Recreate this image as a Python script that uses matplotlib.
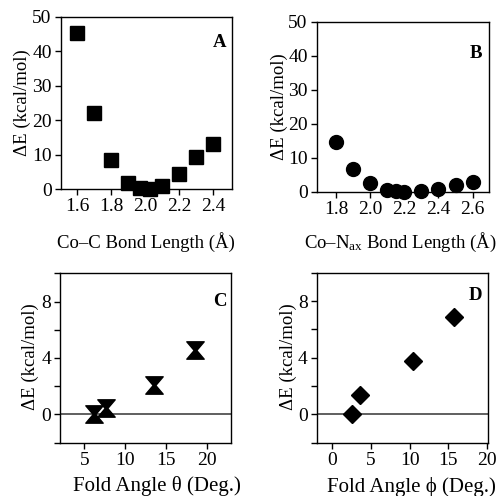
import matplotlib
matplotlib.use("Agg")
import matplotlib.pyplot as plt
from matplotlib.path import Path

plt.rcParams['font.family'] = ['Liberation Serif', 'DejaVu Serif']
plt.rcParams['mathtext.fontset'] = 'custom'
plt.rcParams['mathtext.rm'] = 'Liberation Serif'
plt.rcParams['mathtext.it'] = 'Liberation Serif:italic'

# Panel A: Co-C bond length scan
coc_len = [1.6, 1.7, 1.8, 1.9, 1.97, 2.03, 2.1, 2.2, 2.3, 2.4]
coc_dE = [45.3, 22.0, 8.4, 1.9, 0.3, 0.0, 1.0, 4.3, 9.4, 13.2]

# Panel B: Co-Nax bond length scan
con_len = [1.8, 1.9, 2.0, 2.1, 2.15, 2.2, 2.3, 2.4, 2.5, 2.6]
con_dE = [14.5, 6.7, 2.5, 0.5, 0.1, 0.0, 0.3, 0.9, 2.0, 2.9]

# Panel C: fold angle theta
theta = [6.2, 7.6, 13.5, 18.6]
theta_dE = [0.0, 0.45, 2.1, 4.6]

# Panel D: fold angle phi
phi = [2.6, 3.6, 10.4, 15.7]
phi_dE = [0.0, 1.4, 3.8, 6.9]

W, H = 499, 496
fig = plt.figure(figsize=(W / 100, H / 100), dpi=100)

def rect(l, r, t, b):
    return [l / W, 1 - b / H, (r - l) / W, (b - t) / H]

axA = fig.add_axes(rect(60.7, 232, 16.7, 189.3))
axB = fig.add_axes(rect(316.7, 488.7, 21.7, 191.7))
axC = fig.add_axes(rect(60, 231, 273.3, 442.7))
axD = fig.add_axes(rect(316.7, 487.7, 272.7, 442.7))

FS = 14
LFS = 13.5
ylabel = "ΔE (kcal/mol)"

for ax in (axA, axB, axC, axD):
    for s in ax.spines.values():
        s.set_linewidth(1.0)
    ax.tick_params(direction='out', length=4, width=1.0, labelsize=FS, pad=2.5)

def place_labels(ax, xl, xx, xy, yl, yx, yy, xfs=LFS):
    ax.set_xlabel(xl, fontsize=xfs)
    ax.xaxis.set_label_coords(xx, xy)
    ax.xaxis.label.set_va('baseline')
    ax.set_ylabel(yl, fontsize=LFS)
    ax.yaxis.set_label_coords(yx, yy)
    ax.yaxis.label.set_va('center')

hourglass = Path([(-1, 1), (1, 1), (0.15, 0), (1, -1), (-1, -1), (-0.15, 0), (-1, 1)],
                 [Path.MOVETO, Path.LINETO, Path.LINETO, Path.LINETO, Path.LINETO, Path.LINETO, Path.CLOSEPOLY])

# A
axA.plot(coc_len, coc_dE, 's', color='black', ms=9.5, clip_on=False, zorder=5)
axA.set_xlim(1.502, 2.51)
axA.set_ylim(0, 50)
axA.set_xticks([1.6, 1.8, 2.0, 2.2, 2.4])
axA.set_xticklabels(["1.6", "1.8", "2.0", "2.2", "2.4"])
axA.set_yticks([0, 10, 20, 30, 40, 50])
place_labels(axA, "Co–C Bond Length (Å)", 0.5, -0.338, ylabel, -0.222, 0.5)
axA.text(0.965, 0.85, "A", transform=axA.transAxes, ha='right', va='center', fontsize=13.5, fontweight='bold')

# B
axB.plot(con_len, con_dE, 'o', color='black', ms=10, clip_on=False, zorder=5)
axB.set_xlim(1.687, 2.694)
axB.set_ylim(0, 50)
axB.set_xticks([1.8, 2.0, 2.2, 2.4, 2.6])
axB.set_xticklabels(["1.8", "2.0", "2.2", "2.4", "2.6"])
axB.set_yticks([0, 10, 20, 30, 40, 50])
place_labels(axB, "Co–N$_{\\rm ax}$ Bond Length (Å)", 0.484, -0.329, ylabel, -0.215, 0.5)
axB.text(0.96, 0.815, "B", transform=axB.transAxes, ha='right', va='center', fontsize=13.5, fontweight='bold')

# C
axC.axhline(0, color='#444444', lw=1.2, zorder=1)
axC.plot(theta, theta_dE, linestyle='none', marker=hourglass, color='black', ms=12.5, clip_on=False, zorder=5)
axC.set_xlim(2, 23)
axC.set_ylim(-2, 10)
axC.set_xticks([5, 10, 15, 20])
axC.set_yticks([-2, 0, 2, 4, 6, 8, 10])
axC.set_yticklabels(["", "0", "", "4", "", "8", ""])
place_labels(axC, "Fold Angle θ (Deg.)", 0.565, -0.288, ylabel, -0.175, 0.508, xfs=15)
axC.text(0.975, 0.835, "C", transform=axC.transAxes, ha='right', va='center', fontsize=13.5, fontweight='bold')

# D
axD.axhline(0, color='#444444', lw=1.2, zorder=1)
axD.plot(phi, phi_dE, 'D', color='black', ms=9, clip_on=False, zorder=5)
axD.set_xlim(-2, 20.1)
axD.set_ylim(-2, 10)
axD.set_xticks([0, 5, 10, 15, 20])
axD.set_yticks([-2, 0, 2, 4, 6, 8, 10])
axD.set_yticklabels(["", "0", "", "4", "", "8", ""])
place_labels(axD, "Fold Angle ϕ (Deg.)", 0.556, -0.288, ylabel, -0.168, 0.508, xfs=15)
axD.text(0.97, 0.865, "D", transform=axD.transAxes, ha='right', va='center', fontsize=13.5, fontweight='bold')

fig.savefig("out.png", dpi=100)
